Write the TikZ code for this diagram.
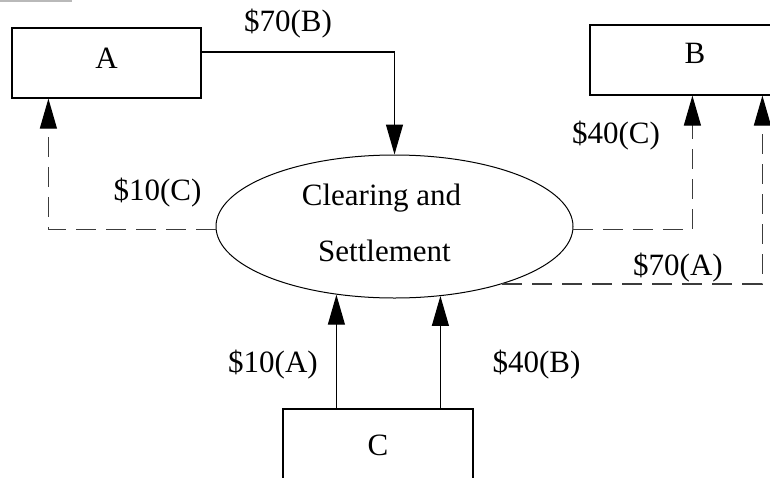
\documentclass[tikz,border=0pt]{standalone}
\usepackage{fontspec}
\setmainfont{Liberation Serif}
\usetikzlibrary{arrows.meta,shapes.geometric}
\definecolor{dashgray}{HTML}{3C3C3C}
\begin{document}
\begin{tikzpicture}[x=1pt,y=-1pt,
  every node/.style={font=\fontsize{31}{37}\selectfont, inner sep=0pt},
  party/.style={draw, line width=1.2pt, minimum width=#1, minimum height=70pt},
  hub/.style={ellipse, draw, line width=1pt, minimum width=357pt, minimum height=143pt},
  amount/.style={anchor=base},
  flow/.style={line width=1.2pt, -{Triangle[length=30pt,width=17pt]}},
  flowd/.style={line width=1.2pt, draw=dashgray, dash pattern=on 20pt off 10pt,
    -{Triangle[length=30pt,width=17pt,color=black]}}]
\useasboundingbox (0,0) rectangle (770,477);
\clip (0,0) rectangle (770,477);

% short rule in the top left corner
\draw[gray!55, line width=1.5pt] (0,0.75) -- (72,0.75);

% participants
\node[party=189pt, text height=20pt, text depth=10pt] (A) at (106.5,63) {A};
\node[party=210pt, text height=20pt, text depth=14pt] (B) at (695,60) {B};
\node[party=190pt, text height=22pt, text depth=0pt] (C) at (378,444) {C};

% clearing house
\node[hub] (cs) at (394.5,226.5) {};
\node[anchor=base] (cs1) at (381.5,205) {Clearing and};
\node[anchor=base] (cs2) at (384.5,261) {Settlement};

% payments into the clearing house
\draw[flow] ([yshift=11pt]A.east) -| (cs.north);
\coordinate (c1) at ([xshift=54pt]C.north west);
\coordinate (c2) at ([xshift=158pt]C.north west);
\draw[flow] (c1) -- (c1 |- cs.-130.3);
\draw[flow] (c2) -- (c2 |- cs.-56);

% settlements paid out
\draw[flowd] (cs.181.1) -| ([xshift=37pt]A.south west);
\draw[flowd] (cs.359.5) -| ([xshift=103pt]B.south west);
\draw[flowd] (cs.-28.7) -| ([xshift=173pt]B.south west);

% amounts
\node[amount] (l70B) at (288,31) {\$70(B)};
\node[amount] (l10C) at (157.5,200) {\$10(C)};
\node[amount] (l40C) at (616,143) {\$40(C)};
\node[amount] (l70A) at (678,275) {\$70(A)};
\node[amount] (l10A) at (273,372) {\$10(A)};
\node[amount] (l40B) at (536.5,372) {\$40(B)};
\end{tikzpicture}
\end{document}
